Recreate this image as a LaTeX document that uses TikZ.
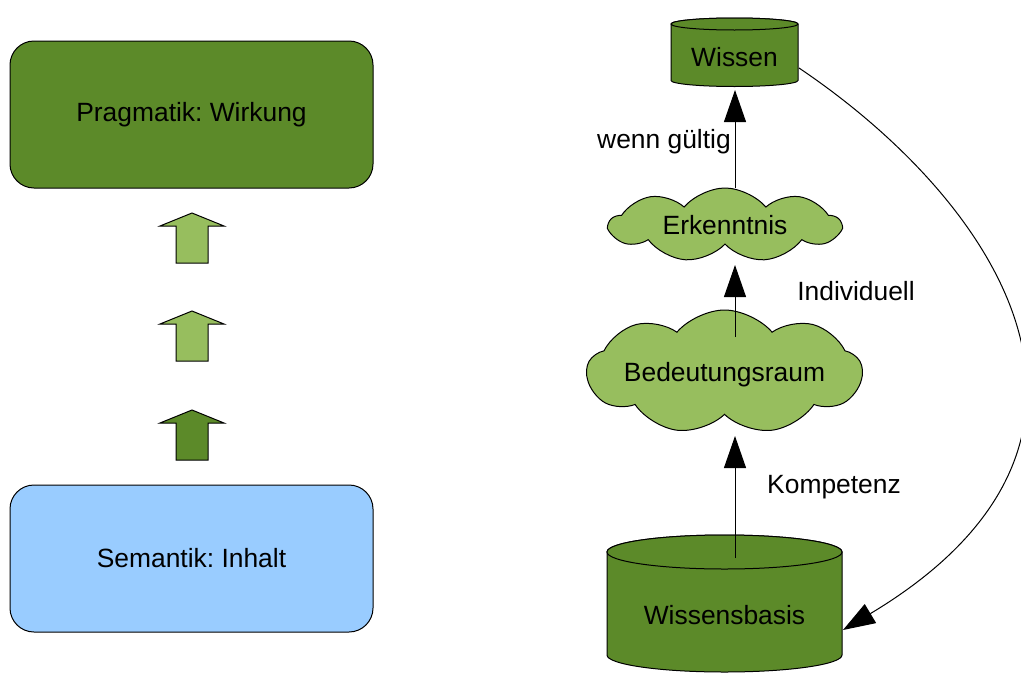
\documentclass[tikz,border=0pt]{standalone}
\usepackage{fontspec}
\setmainfont{Liberation Sans}
\usetikzlibrary{shapes.symbols,arrows.meta}
\definecolor{leafdark}{RGB}{92,138,41}
\definecolor{leaflight}{RGB}{151,190,94}
\definecolor{skyblue}{RGB}{153,204,255}
\frenchspacing
\begin{document}
\begin{tikzpicture}[x=0.75pt,y=-0.75pt,
  font=\fontsize{19.8}{24}\selectfont,
  outline/.style={draw=black,line width=0.75pt},
  layerbox/.style={outline,rounded corners=18pt,minimum width=272.25pt,minimum height=110.25pt,inner sep=0pt},
  cloudbox/.style={outline,fill=leaflight,cloud,cloud puffs=9,cloud puff arc=100,cloud ignores aspect,inner sep=0pt},
  blockarrow/.style={outline,line join=miter},
  drum/.style={outline,fill=leafdark},
  link/.style={line width=0.75pt,-{Triangle[length=24pt,width=16.5pt]}},
  tag/.style={inner sep=0pt}]
\useasboundingbox (0,0) rectangle (1021,675);

% left column: two layers and the step arrows between them
\node[layerbox,fill=leafdark] (pragmatik) at (191.5,114.5) {Pragmatik: Wirkung};
\node[layerbox,fill=skyblue] (semantik) at (191.5,558.5) {Semantik: Inhalt};

\draw[blockarrow,fill=leaflight] (192,213) -- (224,226) -- (208,226) -- (208,263) -- (176,263) -- (176,226) -- (160,226) -- cycle;
\draw[blockarrow,fill=leaflight] (192,311) -- (224,324) -- (208,324) -- (208,361) -- (176,361) -- (176,324) -- (160,324) -- cycle;
\draw[blockarrow,fill=leafdark] (192,410) -- (224,423) -- (208,423) -- (208,460) -- (176,460) -- (176,423) -- (160,423) -- cycle;

% knowledge store at the top
\draw[drum] (671,24) -- (671,80.5) arc[start angle=180,end angle=0,x radius=63.5,y radius=6]
  -- (798,24) arc[start angle=0,end angle=-180,x radius=63.5,y radius=6] -- cycle;
\draw[drum] (734.5,24) ellipse[x radius=63.5,y radius=6];
\node[tag] (wissen) at (734.5,57) {Wissen};

% knowledge base at the bottom
\draw[drum] (607,552) -- (607,655) arc[start angle=180,end angle=0,x radius=117.5,y radius=17]
  -- (842,552) arc[start angle=0,end angle=-180,x radius=117.5,y radius=17] -- cycle;
\draw[drum] (724.5,552) ellipse[x radius=117.5,y radius=17];
\node[tag] (wissensbasis) at (724.5,615) {Wissensbasis};

% clouds
\node[cloudbox,minimum width=173pt,minimum height=55.5pt] (erkenntnis) at (725,225) {};
\node[tag] at (erkenntnis.center) {Erkenntnis};
\node[cloudbox,minimum width=206.25pt,minimum height=93pt] (bedeutung) at (724.5,372) {};
\node[tag] at (724.5,375) {Bedeutungsraum};

% connector end points
\coordinate (kbIn) at (735,558);
\coordinate (brOut) at (735,436);
\coordinate (brIn) at (735,337);
\coordinate (ekOut) at (735,265);
\coordinate (ekIn) at (735,188);
\coordinate (wsOut) at (735,90);
\coordinate (wsSide) at (799,68);
\coordinate (kbSide) at (843,630);

\draw[link] (kbIn) -- (brOut);
\draw[link] (brIn) -- (ekOut);
\draw[link] (ekIn) -- (wsOut);
\draw[link] (wsSide) .. controls (995,200) and (1160,440) .. (kbSide);

\node[tag] (lblgueltig) at (664,142) {wenn gültig};
\node[tag] (lblindiv) at (856,291) {Individuell};
\node[tag] (lblkomp) at (834,487) {Kompetenz};
\end{tikzpicture}
\end{document}
